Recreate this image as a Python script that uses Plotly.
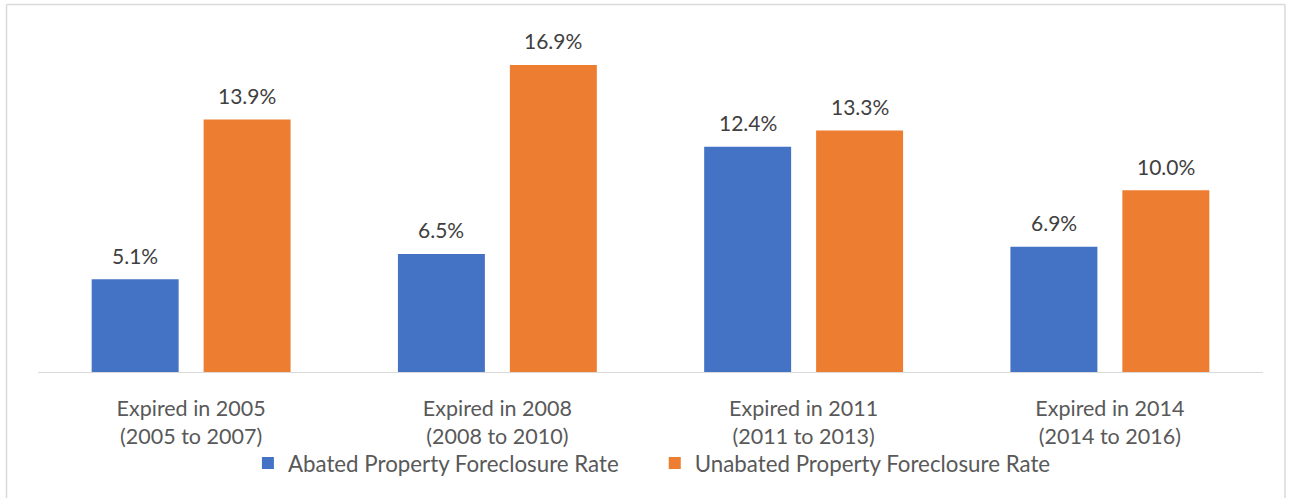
import plotly.graph_objects as go

categories = ["Expired in 2005<br>(2005 to 2007)", "Expired in 2008<br>(2008 to 2010)",
              "Expired in 2011<br>(2011 to 2013)", "Expired in 2014<br>(2014 to 2016)"]
abated = [5.1, 6.5, 12.4, 6.9]
unabated = [13.9, 16.9, 13.3, 10.0]
series_names = ["Abated Property Foreclosure Rate", "Unabated Property Foreclosure Rate"]

BLUE = "#4472C4"
ORANGE = "#ED7D31"
FONT = "Lato"

fig = go.Figure()
fig.add_trace(go.Bar(x=categories, y=abated, name=series_names[0], legend="legend",
                     marker=dict(color=BLUE, line=dict(width=0))))
fig.add_trace(go.Bar(x=categories, y=unabated, name=series_names[1], legend="legend2",
                     marker=dict(color=ORANGE, line=dict(width=0))))

annotations = []
for vals, shift in ((abated, -56), (unabated, 56)):
    for c, v in zip(categories, vals):
        annotations.append(dict(x=c, y=v, xref="x", yref="y", text=f"{v:.1f}%", showarrow=False,
                                xshift=shift, yshift=24, yanchor="middle",
                                font=dict(family=FONT, size=21, color="#404040")))

W, H = 1295, 498
L, T = 38, 45
R = W - 1263.5
B = H - 372
pw = W - L - R
ph = H - T - B

def px2paper_x(px):
    return (px - L) / pw

def px2paper_y(py):
    return (H - B - py) / ph

bc = dict(color="#D9D9D9", width=1.5)
shapes = [
    dict(type="line", xref="paper", yref="paper", x0=px2paper_x(6.5), x1=px2paper_x(6.5),
         y0=px2paper_y(4.5), y1=px2paper_y(520), line=bc),
    dict(type="line", xref="paper", yref="paper", x0=px2paper_x(1285.5), x1=px2paper_x(1285.5),
         y0=px2paper_y(4.5), y1=px2paper_y(520), line=bc),
    dict(type="line", xref="paper", yref="paper", x0=px2paper_x(6.5), x1=px2paper_x(1285.5),
         y0=px2paper_y(4.5), y1=px2paper_y(4.5), line=bc),
]

legend_common = dict(orientation="h", xanchor="left", yanchor="middle", y=px2paper_y(463),
                     font=dict(family=FONT, size=22.3, color="#595959"), bgcolor="rgba(0,0,0,0)",
                     itemclick=False)

fig.update_layout(
    width=W, height=H,
    margin=dict(l=L, r=R, t=T, b=B, autoexpand=False),
    paper_bgcolor="white", plot_bgcolor="white",
    barmode="group", bargap=0.269, bargroupgap=0.223,
    font=dict(family=FONT, color="#595959", size=21.5),
    xaxis=dict(showline=True, linecolor="#D9D9D9", linewidth=1, ticks="", showgrid=False,
               ticklabelstandoff=17,
               tickfont=dict(family=FONT, size=21.5, color="#595959")),
    yaxis=dict(range=[0, 18], visible=False, showgrid=False, zeroline=False),
    legend=dict(x=px2paper_x(248), **legend_common),
    legend2=dict(x=px2paper_x(655), **legend_common),
    annotations=annotations, shapes=shapes, showlegend=True,
)

fig.write_html("out.html", post_script="document.body.style.margin='0';",
               config={"displayModeBar": False})
